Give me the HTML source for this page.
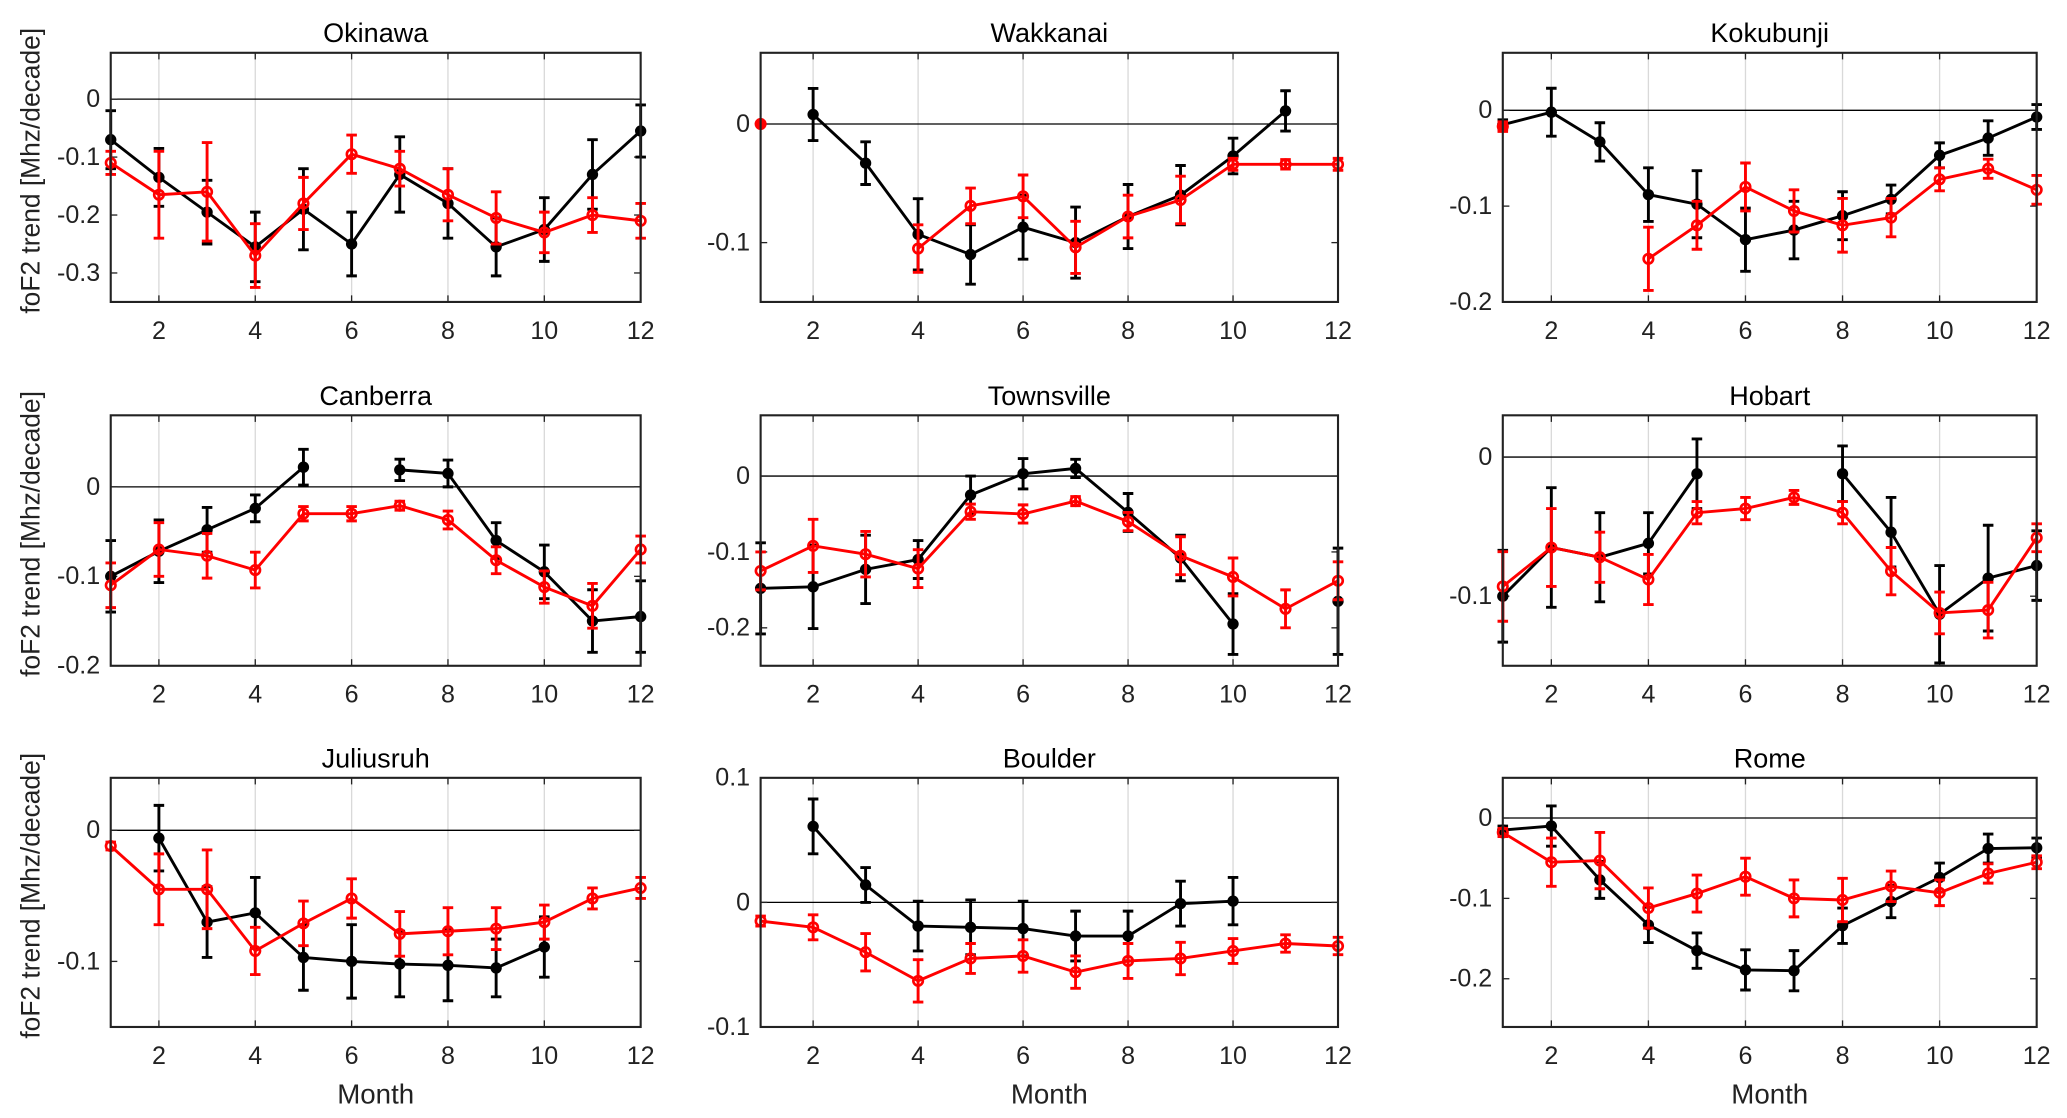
<!DOCTYPE html>
<html><head><meta charset="utf-8"><style>
html,body{margin:0;padding:0;background:#fff;}
svg{display:block;font-family:"Liberation Sans",Arial,sans-serif;}
</style></head><body>
<svg id="fig" width="2067" height="1118" viewBox="0 0 1568 848" xmlns="http://www.w3.org/2000/svg"></svg>
<script>
const months = [1,2,3,4,5,6,7,8,9,10,11,12];
const xTicks = [2,4,6,8,10,12];
const panelNames = ["Okinawa","Wakkanai","Kokubunji","Canberra","Townsville","Hobart","Juliusruh","Boulder","Rome"];
const yRanges = [[-0.35,0.08],[-0.15,0.06],[-0.2,0.06],[-0.2,0.08],[-0.25,0.08],[-0.15,0.03],[-0.15,0.04],[-0.1,0.1],[-0.26,0.05]];
const yTickSets = [[0,-0.1,-0.2,-0.3],[0,-0.1],[0,-0.1,-0.2],[0,-0.1,-0.2],[0,-0.1,-0.2],[0,-0.1],[0,-0.1],[0.1,0,-0.1],[0,-0.1,-0.2]];
const blackVals = [
 [-0.07,-0.135,-0.195,-0.255,-0.19,-0.25,-0.13,-0.18,-0.255,-0.225,-0.13,-0.055],
 [null,0.008,-0.033,-0.093,-0.11,-0.087,-0.1,-0.078,-0.06,-0.027,0.011,null],
 [-0.015,-0.002,-0.033,-0.088,-0.098,-0.135,-0.125,-0.11,-0.093,-0.047,-0.029,-0.007],
 [-0.1,-0.072,-0.048,-0.024,0.022,null,0.019,0.015,-0.06,-0.095,-0.15,-0.145],
 [-0.148,-0.146,-0.123,-0.11,-0.025,0.003,0.01,-0.048,-0.108,-0.195,null,-0.165],
 [-0.1,-0.065,-0.072,-0.062,-0.012,null,null,-0.012,-0.054,-0.113,-0.087,-0.078],
 [null,-0.006,-0.07,-0.063,-0.097,-0.1,-0.102,-0.103,-0.105,-0.089,null,null],
 [null,0.061,0.014,-0.019,-0.02,-0.021,-0.027,-0.027,-0.001,0.001,null,null],
 [-0.015,-0.01,-0.077,-0.133,-0.165,-0.189,-0.19,-0.134,-0.104,-0.074,-0.038,-0.037]];
const blackErrs = [
 [0.05,0.05,0.055,0.06,0.07,0.055,0.065,0.06,0.05,0.055,0.06,0.045],
 [0,0.022,0.018,0.03,0.025,0.027,0.03,0.027,0.025,0.015,0.017,0],
 [0.005,0.025,0.02,0.028,0.035,0.033,0.03,0.025,0.015,0.013,0.018,0.013],
 [0.04,0.035,0.025,0.015,0.02,0,0.012,0.015,0.02,0.03,0.035,0.04],
 [0.06,0.055,0.045,0.025,0.025,0.02,0.012,0.025,0.03,0.04,0,0.07],
 [0.033,0.043,0.032,0.022,0.025,0,0,0.02,0.025,0.035,0.038,0.025],
 [0,0.025,0.027,0.027,0.025,0.028,0.025,0.027,0.022,0.023,0,0],
 [0,0.022,0.014,0.02,0.022,0.022,0.02,0.02,0.018,0.019,0,0],
 [0.005,0.025,0.023,0.022,0.022,0.025,0.025,0.022,0.02,0.018,0.018,0.012]];
const redVals = [
 [-0.11,-0.165,-0.16,-0.27,-0.18,-0.095,-0.12,-0.165,-0.205,-0.23,-0.2,-0.21],
 [0,null,null,-0.105,-0.069,-0.061,-0.104,-0.078,-0.064,-0.034,-0.034,-0.034],
 [-0.017,null,null,-0.155,-0.12,-0.08,-0.105,-0.12,-0.112,-0.072,-0.061,-0.083],
 [-0.11,-0.07,-0.077,-0.093,-0.03,-0.03,-0.021,-0.037,-0.082,-0.112,-0.133,-0.07],
 [-0.125,-0.092,-0.103,-0.122,-0.047,-0.05,-0.033,-0.06,-0.105,-0.133,-0.175,-0.138],
 [-0.093,-0.065,-0.072,-0.088,-0.04,-0.037,-0.029,-0.04,-0.082,-0.112,-0.11,-0.058],
 [-0.012,-0.045,-0.045,-0.092,-0.071,-0.052,-0.079,-0.077,-0.075,-0.07,-0.052,-0.044],
 [-0.015,-0.02,-0.04,-0.063,-0.045,-0.043,-0.056,-0.047,-0.045,-0.039,-0.033,-0.035],
 [-0.018,-0.055,-0.053,-0.112,-0.094,-0.073,-0.1,-0.102,-0.085,-0.093,-0.069,-0.055]];
const redErrs = [
 [0.02,0.075,0.085,0.055,0.045,0.033,0.03,0.045,0.045,0.035,0.03,0.03],
 [0,0,0,0.02,0.015,0.018,0.022,0.018,0.02,0.005,0.004,0.005],
 [0.005,0,0,0.033,0.025,0.025,0.022,0.028,0.02,0.012,0.01,0.015],
 [0.025,0.03,0.025,0.02,0.008,0.008,0.005,0.01,0.015,0.018,0.025,0.015],
 [0.025,0.035,0.03,0.025,0.01,0.012,0.006,0.012,0.025,0.025,0.025,0.025],
 [0.025,0.028,0.018,0.018,0.008,0.008,0.005,0.008,0.017,0.015,0.02,0.01],
 [0.003,0.027,0.03,0.018,0.017,0.015,0.017,0.018,0.016,0.013,0.008,0.008],
 [0.004,0.01,0.015,0.017,0.012,0.013,0.013,0.014,0.013,0.01,0.007,0.007],
 [0.005,0.03,0.035,0.025,0.023,0.023,0.023,0.027,0.019,0.016,0.012,0.008]];

const NS="http://www.w3.org/2000/svg";
const svg=document.getElementById('fig');
const colX=[[84,486],[577,1015],[1140,1545]];
const rowY=[[40,229],[315,505],[590,779]];
function mk(tag,attrs,parent){const e=document.createElementNS(NS,tag);for(const k in attrs)e.setAttribute(k,attrs[k]);(parent||svg).appendChild(e);return e;}

for(let p=0;p<9;p++){
  const c=p%3,r=Math.floor(p/3);
  const [L,R]=colX[c],[T,B]=rowY[r];
  const [y0,y1]=yRanges[p];
  const sx=m=>L+(m-1)/11*(R-L);
  const sy=v=>B-(v-y0)/(y1-y0)*(B-T);
  const g=mk('g',{});
  
  
  xTicks.forEach(t=>{
    const gl=mk('line',{x1:sx(t),x2:sx(t),y1:T,y2:B,stroke:'#d9d9d9','stroke-width':1},g);
    
    
    mk('line',{x1:sx(t),x2:sx(t),y1:B,y2:B-5,stroke:'#222','stroke-width':1},g);
    mk('line',{x1:sx(t),x2:sx(t),y1:T,y2:T+5,stroke:'#222','stroke-width':1},g);
    const tl=mk('text',{x:sx(t),y:B+28,'text-anchor':'middle','font-size':19,fill:'#222'},g);
    tl.textContent=t;
    
    
  });
  const z=mk('line',{x1:L,x2:R,y1:sy(0),y2:sy(0),stroke:'#000','stroke-width':1},g);
  
  
  yTickSets[p].forEach(t=>{
    mk('line',{x1:L,x2:L+5,y1:sy(t),y2:sy(t),stroke:'#222','stroke-width':1},g);
    mk('line',{x1:R,x2:R-5,y1:sy(t),y2:sy(t),stroke:'#222','stroke-width':1},g);
    const tl=mk('text',{x:L-8,y:sy(t)+6,'text-anchor':'end','font-size':19,fill:'#222'},g);
    tl.textContent=(t===0?'0':String(t));
    
    
  });
  const series=[[blackVals[p],blackErrs[p],'#000',true],[redVals[p],redErrs[p],'#f00',false]];
  series.forEach(([vals,errs,col,filled])=>{
    let d='',pen=false;
    vals.forEach((v,i)=>{if(v===null){pen=false;return;}d+=(pen?'L':'M')+sx(months[i])+' '+sy(v)+' ';pen=true;});
    if(d){const pl=mk('path',{d:d,fill:'none',stroke:col,'stroke-width':2.2},g);
      
      }
    vals.forEach((v,i)=>{
      if(v===null)return;
      const x=sx(months[i]),e=errs[i];
      const isolated=(i===0||vals[i-1]===null)&&(i===vals.length-1||vals[i+1]===null);
      if(e>0){
        const eb=mk('path',{d:`M${x} ${sy(v-e)}L${x} ${sy(v+e)}M${x-4} ${sy(v-e)}L${x+4} ${sy(v-e)}M${x-4} ${sy(v+e)}L${x+4} ${sy(v+e)}`,stroke:col,'stroke-width':2.2,fill:'none'},g);
        
        
      }
      const fill=filled||isolated;
      const pt=mk('circle',{cx:x,cy:sy(v),r:filled?3.3:3.6,fill:fill?col:'none',stroke:col,'stroke-width':2},g);
      
      
    });
  });
  const box=mk('rect',{x:L,y:T,width:R-L,height:B-T,fill:'none',stroke:'#222','stroke-width':1.6},g);
  
  
  const tt=mk('text',{x:(L+R)/2,y:T-8,'text-anchor':'middle','font-size':20.5,fill:'#000'},g);
  tt.textContent=panelNames[p];
  
  
  if(r===2){
    const xl=mk('text',{x:(L+R)/2,y:B+58,'text-anchor':'middle','font-size':21,fill:'#222'},g);
    xl.textContent='Month';
    
    
  }
  if(c===0){
    const cy=(T+B)/2-5;
    const yl=mk('text',{x:0,y:0,'text-anchor':'middle','font-size':20,fill:'#222',transform:`translate(30 ${cy}) rotate(-90)`},g);
    yl.textContent='foF2 trend [Mhz/decade]';
    
    
  }
}
</script>
</body></html>
